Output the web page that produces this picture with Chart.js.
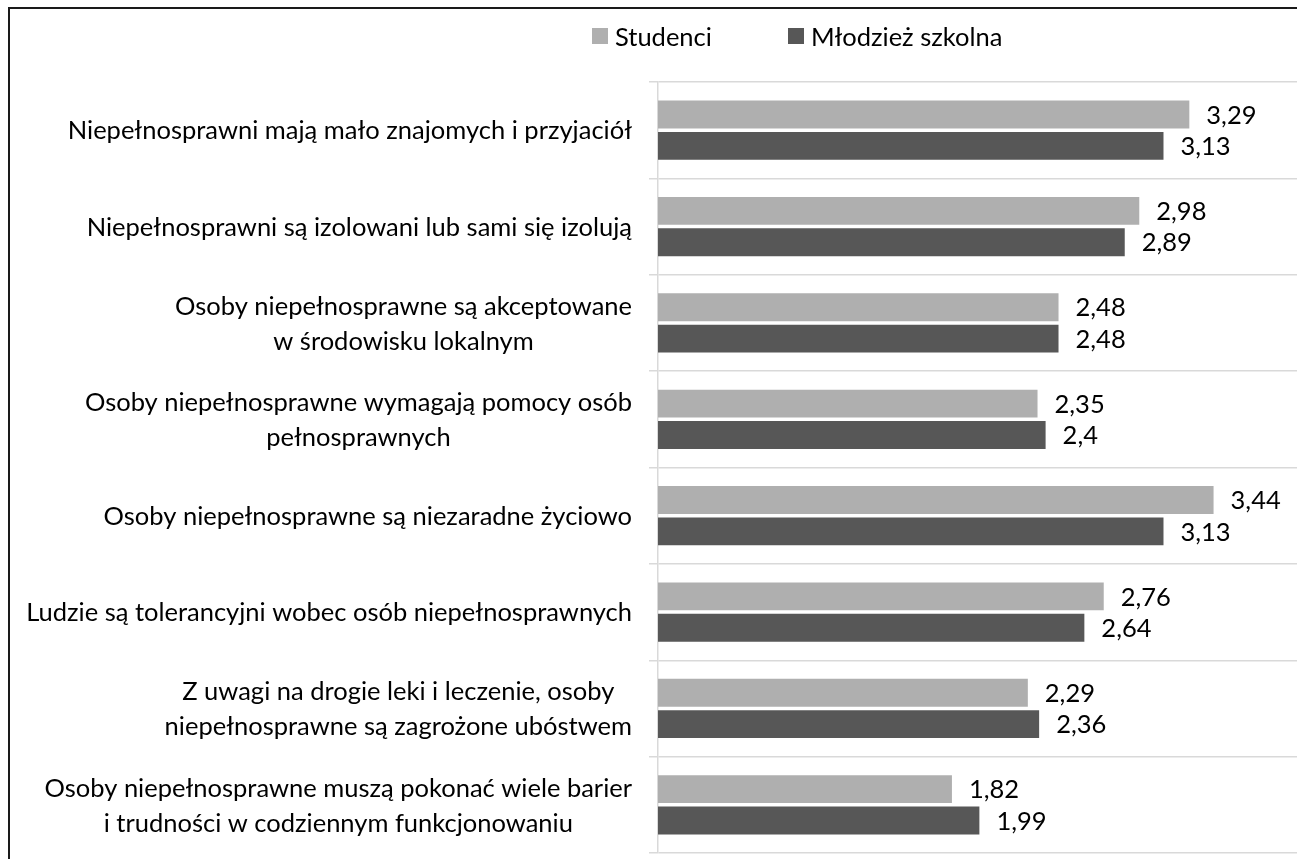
<!DOCTYPE html>
<html>
<head>
<meta charset="utf-8">
<script src="https://cdn.jsdelivr.net/npm/chart.js@4"></script>
<style>
  html, body { margin: 0; padding: 0; background: #fff; overflow: hidden; }
  body { width: 1297px; height: 859px; position: relative; }
  #frame { position: absolute; left: 8px; top: 7px; width: 1400px; height: 1000px; border: 2px solid #1a1a1a; box-sizing: border-box; }
  #chartBox { position: absolute; left: 0; top: 0; }
  #legend { position: absolute; top: 21px; left: 592px; display: flex; align-items: center; font-family: Lato, "Open Sans", sans-serif; font-size: 25.5px; color: #000; }
  .item { display: flex; align-items: center; margin-right: 76px; }
  .box { width: 16px; height: 16px; margin-right: 7px; }
</style>
</head>
<body>
<div id="frame"></div>
<canvas id="chartBox" width="1304" height="859"></canvas>
<div id="legend"></div>
<script>
const categories = [
  ["Niepełnosprawni mają mało znajomych i przyjaciół"],
  ["Niepełnosprawni są izolowani lub sami się izolują"],
  ["Osoby niepełnosprawne są akceptowane", "w środowisku lokalnym"],
  ["Osoby niepełnosprawne wymagają pomocy osób", "pełnosprawnych"],
  ["Osoby niepełnosprawne są niezaradne życiowo"],
  ["Ludzie są tolerancyjni wobec osób niepełnosprawnych"],
  ["Z uwagi na drogie leki i leczenie, osoby", "niepełnosprawne są zagrożone ubóstwem"],
  ["Osoby niepełnosprawne muszą pokonać wiele barier", "i trudności w codziennym funkcjonowaniu"],
];
const studenci = [3.29, 2.98, 2.48, 2.35, 3.44, 2.76, 2.29, 1.82];
const mlodziez = [3.13, 2.89, 2.48, 2.4, 3.13, 2.64, 2.36, 1.99];
const seriesNames = ["Studenci", "Młodzież szkolna"];
const seriesColors = ["#afafaf", "#575757"];

const FONT = 'Lato, "Open Sans", sans-serif';
const FONT_SIZE = 25.5;

// legend as plain html
const legendEl = document.getElementById("legend");
seriesNames.forEach((name, i) => {
  const item = document.createElement("div");
  item.className = "item";
  const box = document.createElement("span");
  box.className = "box";
  box.style.background = seriesColors[i];
  const txt = document.createElement("span");
  txt.textContent = name;
  item.appendChild(box);
  item.appendChild(txt);
  legendEl.appendChild(item);
});

function fmt(v) {
  return String(v).replace(".", ",");
}

// value labels next to bars
const valueLabels = {
  id: "valueLabels",
  afterDatasetsDraw(chart) {
    const ctx = chart.ctx;
    ctx.save();
    ctx.font = FONT_SIZE + "px " + FONT;
    ctx.fillStyle = "#000";
    ctx.textAlign = "left";
    ctx.textBaseline = "middle";
    chart.data.datasets.forEach((ds, i) => {
      chart.getDatasetMeta(i).data.forEach((bar, j) => {
        ctx.fillText(fmt(ds.data[j]), bar.x + 17, bar.y + 1);
      });
    });
    ctx.restore();
  },
};

// category labels: block right aligned, lines centred inside the block
const categoryLabels = {
  id: "categoryLabels",
  afterDraw(chart) {
    const ctx = chart.ctx;
    const y = chart.scales.y;
    const right = y.right - 9 - 17;
    const lineH = 35;
    ctx.save();
    ctx.font = FONT_SIZE + "px " + FONT;
    ctx.fillStyle = "#000";
    ctx.textAlign = "center";
    ctx.textBaseline = "middle";
    categories.forEach((lines, i) => {
      const cy = y.getPixelForTick(i);
      const w = Math.max(...lines.map((l) => ctx.measureText(l).width));
      const cx = right - w / 2;
      lines.forEach((l, k) => {
        ctx.fillText(l, cx, cy + 1 + (k - (lines.length - 1) / 2) * lineH);
      });
    });
    ctx.restore();
  },
};

const ctx = document.getElementById("chartBox").getContext("2d");
new Chart(ctx, {
  type: "bar",
  data: {
    labels: categories,
    datasets: [
      { label: seriesNames[0], data: studenci, backgroundColor: seriesColors[0] },
      { label: seriesNames[1], data: mlodziez, backgroundColor: seriesColors[1] },
    ],
  },
  options: {
    indexAxis: "y",
    responsive: false,
    animation: false,
    layout: { padding: { top: 82, bottom: 6, left: 0, right: 0 } },
    datasets: { bar: { categoryPercentage: 0.65, barPercentage: 0.89 } },
    plugins: {
      legend: { display: false },
      tooltip: { enabled: false },
    },
    scales: {
      x: { display: false, min: 0, max: 4 },
      y: {
        ticks: { display: false },
        grid: { color: "#d9d9d9", lineWidth: 1.5, tickLength: 9, offset: true },
        border: { color: "#d9d9d9", width: 1.5 },
        afterFit(scale) {
          scale.width = 658;
        },
      },
    },
  },
  plugins: [valueLabels, categoryLabels],
});
</script>
</body>
</html>
